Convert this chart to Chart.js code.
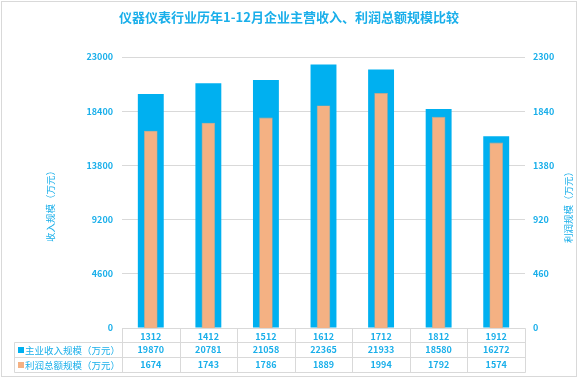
<!DOCTYPE html>
<html>
<head>
<meta charset="utf-8">
<script src="https://cdn.jsdelivr.net/npm/chart.js@4"></script>
<style>
html,body{margin:0;padding:0;background:#fff;}
#wrap{position:relative;width:579px;height:379px;}
</style>
</head>
<body>
<div id="wrap"><canvas id="c" width="579" height="379"></canvas></div>
<script>
const title = '仪器仪表行业历年1-12月企业主营收入、利润总额规模比较';
const categories = ['1312','1412','1512','1612','1712','1812','1912'];
const revenue = [19870, 20781, 21058, 22365, 21933, 18580, 16272];
const profit = [1674, 1743, 1786, 1889, 1994, 1792, 1574];
const revenueLabel = '主业收入规模（万元）';
const profitLabel = '利润总额规模（万元）';
const leftTitle = '收入规模（万元）';
const rightTitle = '利润规模（万元）';
const leftTicks = [0, 4600, 9200, 13800, 18400, 23000];
const rightTicks = [0, 460, 920, 1380, 1840, 2300];

const BLUE = '#00B0F0';
const ORANGE = '#F4B183';
const TXT = '#1AAFEA';
const LINE = '#D9D9D9';
const FONT = '"Noto Sans CJK SC", "Noto Sans", sans-serif';

const overlay = {
  id: 'overlay',
  beforeDraw(chart) {
    const ctx = chart.ctx;
    ctx.save();
    ctx.fillStyle = '#fff';
    ctx.fillRect(0, 0, chart.width, chart.height);
    ctx.restore();
  },
  afterDraw(chart) {
    const ctx = chart.ctx;
    const x = chart.scales.x;
    const area = chart.chartArea;
    ctx.save();
    // frame
    ctx.strokeStyle = LINE;
    ctx.lineWidth = 1;
    ctx.strokeRect(1.5, 1.5, 575, 375);
    // title
    ctx.fillStyle = TXT;
    ctx.font = 'bold 13px ' + FONT;
    ctx.textAlign = 'center';
    ctx.textBaseline = 'middle';
    ctx.fillText(title, 289, 17);
    // axis titles
    ctx.font = '9.5px ' + FONT;
    ctx.save();
    ctx.translate(50, 204);
    ctx.rotate(-Math.PI / 2);
    ctx.fillText(leftTitle, 0, 0);
    ctx.restore();
    ctx.save();
    ctx.translate(568, 205);
    ctx.rotate(-Math.PI / 2);
    ctx.fillText(rightTitle, 0, 0);
    ctx.restore();
    // table
    const n = categories.length;
    const step = (area.right - area.left) / n;
    const r0 = Math.round(area.bottom) + 0.5;
    const r1 = 342.5, r2 = 357.5, r3 = 372.5;
    const L = 14.5, R = Math.round(area.right) + 0.5;
    ctx.strokeStyle = LINE;
    ctx.lineWidth = 1;
    ctx.beginPath();
    ctx.moveTo(Math.round(area.left) + 0.5, r0); ctx.lineTo(R, r0);
    ctx.moveTo(L, r1); ctx.lineTo(R, r1);
    ctx.moveTo(L, r2); ctx.lineTo(R, r2);
    ctx.moveTo(L, r3); ctx.lineTo(R, r3);
    ctx.moveTo(L, r1); ctx.lineTo(L, r3);
    for (let i = 0; i <= n; i++) {
      const xx = Math.round(x.getPixelForValue(i) - step / 2) + 0.5;
      ctx.moveTo(xx, r0); ctx.lineTo(xx, r3);
    }
    ctx.stroke();
    ctx.font = 'bold 9px ' + FONT;
    ctx.fillStyle = TXT;
    ctx.textAlign = 'center';
    for (let i = 0; i < n; i++) {
      const cx = x.getPixelForValue(i);
      ctx.fillText(String(revenue[i]), cx, (r1 + r2) / 2);
      ctx.fillText(String(profit[i]), cx, (r2 + r3) / 2);
    }
    // legend column
    ctx.fillStyle = BLUE;
    ctx.fillRect(18, 347, 6, 6);
    ctx.fillStyle = ORANGE;
    ctx.fillRect(18, 362, 6, 6);
    ctx.fillStyle = TXT;
    ctx.textAlign = 'left';
    ctx.font = '9.5px ' + FONT;
    ctx.fillText(revenueLabel, 25, (r1 + r2) / 2);
    ctx.fillText(profitLabel, 25, (r2 + r3) / 2);
    ctx.restore();
  }
};

const plain = v => String(v);

new Chart(document.getElementById('c'), {
  type: 'bar',
  data: {
    labels: categories,
    datasets: [
      {
        label: revenueLabel,
        data: revenue,
        yAxisID: 'y',
        backgroundColor: BLUE,
        borderWidth: 0,
        barPercentage: 0.45,
        categoryPercentage: 1,
        grouped: false,
        order: 2
      },
      {
        label: profitLabel,
        data: profit,
        yAxisID: 'y1',
        backgroundColor: ORANGE,
        borderColor: '#D8A27E',
        borderWidth: 0.6,
        barPercentage: 0.235,
        categoryPercentage: 1,
        grouped: false,
        order: 1
      }
    ]
  },
  options: {
    responsive: false,
    animation: false,
    devicePixelRatio: 1,
    layout: { padding: { left: 0, right: 0, top: 57, bottom: 0 } },
    plugins: { legend: { display: false }, tooltip: { enabled: false }, title: { display: false } },
    scales: {
      x: {
        grid: { display: false, drawTicks: false },
        border: { display: false },
        ticks: { color: TXT, font: { family: FONT, size: 9, weight: 'bold' }, padding: 3, maxRotation: 0 },
        afterFit(s) { s.height = 51; }
      },
      y: {
        position: 'left',
        min: 0, max: 23000,
        afterBuildTicks(s) { s.ticks = leftTicks.map(v => ({ value: v })); },
        grid: { color: LINE, drawTicks: false },
        border: { display: false },
        ticks: { color: TXT, font: { family: FONT, size: 9, weight: 'bold' }, padding: 9, callback: plain },
        afterFit(s) { s.width = 122; }
      },
      y1: {
        position: 'right',
        min: 0, max: 2300,
        afterBuildTicks(s) { s.ticks = rightTicks.map(v => ({ value: v })); },
        grid: { display: false, drawTicks: false },
        border: { display: false },
        ticks: { color: TXT, font: { family: FONT, size: 9, weight: 'bold' }, padding: 8, callback: plain },
        afterFit(s) { s.width = 54; }
      }
    }
  },
  plugins: [overlay]
});
</script>
</body>
</html>
